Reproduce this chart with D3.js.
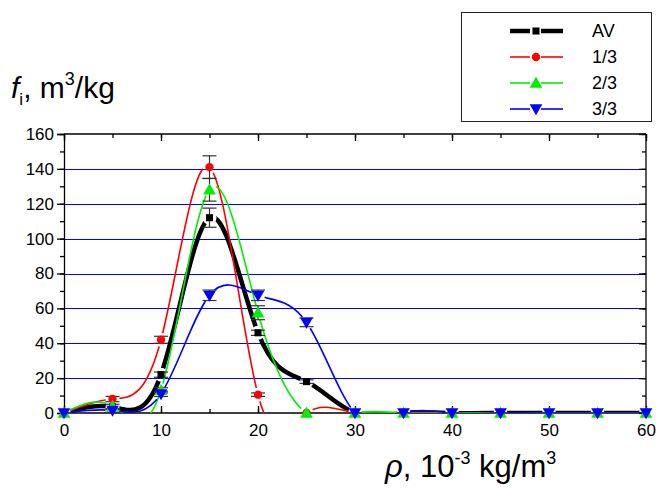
<!DOCTYPE html>
<html>
<head>
<meta charset="utf-8">
<script src="https://cdn.jsdelivr.net/npm/d3@7"></script>
<style>
  body { margin: 0; background: #fff; }
  svg { font-family: "Liberation Sans", Arial, sans-serif; }
</style>
</head>
<body>
<svg id="chart" width="660" height="488"></svg>
<script>
// data
const rho = [0, 5, 10, 15, 20, 25, 30, 35, 40, 45, 50, 55, 60];
const av = [0, 3.5, 22, 112, 46, 18, 0, 0, 0, 0, 0, 0, 0];
const avErr = [0, 1.5, 1.5, 5.5, 1.5, 1, 0, 0, 0, 0, 0, 0, 0];
const third1 = [0, 8, 42, 141, 10.5, 0, 0, 0, 0, 0, 0, 0, 0];
const third1Err = [0, 1.5, 2, 6.5, 1, 0, 0, 0, 0, 0, 0, 0, 0];
const third2 = [0, 4, 13, 128, 57.5, 0, 0, 0, 0, 0, 0, 0, 0];
const third2Err = [0, 0, 1.5, 6.5, 4, 0, 0, 0, 0, 0, 0, 0, 0];
const third3 = [0, 1.5, 11, 67.5, 67.5, 52, 0, 0, 0, 0, 0, 0, 0];
const third3Err = [0, 1, 1.5, 3, 3, 2.5, 0, 0, 0, 0, 0, 0, 0];
const seriesNames = ['AV', '1/3', '2/3', '3/3'];
const yTicks = [0, 20, 40, 60, 80, 100, 120, 140, 160];
const xTicks = [0, 10, 20, 30, 40, 50, 60];

const series = [
  { name: seriesNames[0], values: av, err: avErr, color: '#000', width: 4.5, symbol: d3.symbolSquare, size: 50, rot: 0 },
  { name: seriesNames[1], values: third1, err: third1Err, color: '#ff0000', width: 1.6, symbol: d3.symbolCircle, size: 55, rot: 0 },
  { name: seriesNames[2], values: third2, err: third2Err, color: '#00ee00', width: 1.6, symbol: d3.symbolTriangle, size: 70, rot: 0 },
  { name: seriesNames[3], values: third3, err: third3Err, color: '#0000ff', width: 1.6, symbol: d3.symbolTriangle, size: 70, rot: 180 }
];

const svg = d3.select('#chart');
const pLeft = 64, pRight = 646, pTop = 134, pBottom = 413;

const x = d3.scaleLinear().domain([0, 60]).range([pLeft, pRight]);
const y = d3.scaleLinear().domain([0, 160]).range([pBottom, pTop]);

const defs = svg.append('defs');
defs.append('clipPath').attr('id', 'plotclip')
  .append('rect').attr('x', pLeft).attr('y', pTop).attr('width', pRight - pLeft).attr('height', pBottom - pTop);

// grid lines (snapped to pixels so they stay crisp)
svg.append('g')
  .attr('shape-rendering', 'crispEdges')
  .selectAll('line')
  .data(yTicks.filter(d => d > 0 && d < 160))
  .enter().append('line')
  .attr('x1', pLeft).attr('x2', pRight)
  .attr('y1', d => Math.round(y(d)) + 0.5).attr('y2', d => Math.round(y(d)) + 0.5)
  .attr('stroke', '#0000ff').attr('stroke-width', 1);

// axes
const minorY = d3.range(0, 161, 10);
const minorX = d3.range(0, 61, 5);

svg.append('g')
  .attr('transform', `translate(${pLeft},0)`)
  .call(d3.axisLeft(y).tickValues(minorY).tickSize(4).tickFormat(''))
  .call(g => g.select('.domain').remove());
svg.append('g')
  .attr('transform', `translate(${pLeft},0)`)
  .call(d3.axisLeft(y).tickValues(yTicks).tickSize(7).tickPadding(3))
  .call(g => g.selectAll('text').style('font-size', '17px').attr('fill', '#000'));

svg.append('g')
  .attr('transform', `translate(${pRight},0)`)
  .call(d3.axisLeft(y).tickValues(minorY).tickSize(4).tickFormat(''))
  .call(g => g.select('.domain').remove());
svg.append('g')
  .attr('transform', `translate(${pRight},0)`)
  .call(d3.axisLeft(y).tickValues(yTicks).tickSize(7).tickFormat(''))
  .call(g => g.select('.domain').attr('d', `M0,${pTop}V${pBottom}`));

svg.append('g')
  .attr('transform', `translate(0,${pTop})`)
  .call(d3.axisBottom(x).tickValues(minorX).tickSize(4).tickFormat(''))
  .call(g => g.select('.domain').remove());
svg.append('g')
  .attr('transform', `translate(0,${pTop})`)
  .call(d3.axisBottom(x).tickValues(xTicks).tickSize(7).tickFormat(''))
  .call(g => g.select('.domain').attr('d', `M${pLeft},0H${pRight}`));

svg.append('g')
  .attr('transform', `translate(0,${pBottom})`)
  .call(d3.axisTop(x).tickValues(minorX).tickSize(4).tickFormat(''))
  .call(g => g.select('.domain').remove());
svg.append('g')
  .attr('transform', `translate(0,${pBottom})`)
  .call(d3.axisTop(x).tickValues(xTicks).tickSize(7).tickFormat(''))
  .call(g => g.select('.domain').attr('d', `M${pLeft},0H${pRight}`));

svg.append('g')
  .attr('transform', `translate(0,${pBottom})`)
  .call(d3.axisBottom(x).tickValues(xTicks).tickSize(0).tickPadding(11))
  .call(g => g.select('.domain').remove())
  .call(g => g.selectAll('text').style('font-size', '17px').attr('fill', '#000'));

svg.selectAll('.tick line, .domain').attr('stroke', '#000').attr('stroke-width', 1.3);

// lines, with gaps round the symbols
const line = d3.line()
  .x((d, i) => x(rho[i]))
  .y(d => y(d))
  .curve(d3.curveNatural);

const lineLayer = svg.append('g').attr('clip-path', 'url(#plotclip)');
series.forEach((s, k) => {
  const m = defs.append('mask').attr('id', 'gap' + k)
    .attr('maskUnits', 'userSpaceOnUse')
    .attr('x', 0).attr('y', 0).attr('width', 660).attr('height', 488);
  m.append('rect').attr('width', 660).attr('height', 488).attr('fill', '#fff');
  m.selectAll('circle').data(s.values).enter().append('circle')
    .attr('cx', (d, i) => x(rho[i])).attr('cy', d => y(d))
    .attr('r', 7).attr('fill', '#000');

  lineLayer.append('path')
    .datum(s.values)
    .attr('d', line)
    .attr('fill', 'none')
    .attr('stroke', s.color)
    .attr('stroke-width', s.width)
    .attr('mask', `url(#gap${k})`);
});

// error bars
series.forEach(s => {
  const g = svg.append('g').attr('stroke', '#333').attr('stroke-width', 1.2);
  s.values.forEach((v, i) => {
    const e = s.err[i];
    if (!e) return;
    const cx = x(rho[i]);
    g.append('line').attr('x1', cx).attr('x2', cx).attr('y1', y(v - e)).attr('y2', y(v + e));
    g.append('line').attr('x1', cx - 7).attr('x2', cx + 7).attr('y1', y(v - e)).attr('y2', y(v - e));
    g.append('line').attr('x1', cx - 7).attr('x2', cx + 7).attr('y1', y(v + e)).attr('y2', y(v + e));
  });
});

// symbols
const symShift = s => s.rot ? -1 : (s.symbol === d3.symbolTriangle ? 1 : 0);
series.forEach(s => {
  svg.append('g')
    .selectAll('path')
    .data(s.values)
    .enter().append('path')
    .attr('d', d3.symbol().type(s.symbol).size(s.size))
    .attr('transform', (d, i) => `translate(${x(rho[i])},${y(d) + symShift(s)}) rotate(${s.rot})`)
    .attr('fill', s.color);
});

// legend
const lg = svg.append('g');
lg.append('rect')
  .attr('x', 461.5).attr('y', 12.5).attr('width', 190).attr('height', 109)
  .attr('fill', '#fff').attr('stroke', '#222').attr('stroke-width', 1);
series.forEach((s, k) => {
  const ly = 31 + k * 26;
  lg.append('line').attr('x1', 510).attr('x2', 530).attr('y1', ly).attr('y2', ly)
    .attr('stroke', s.color).attr('stroke-width', s.width);
  lg.append('line').attr('x1', 541).attr('x2', 563).attr('y1', ly).attr('y2', ly)
    .attr('stroke', s.color).attr('stroke-width', s.width);
  lg.append('path')
    .attr('d', d3.symbol().type(s.symbol).size(s.size))
    .attr('transform', `translate(536,${ly + symShift(s)}) rotate(${s.rot})`)
    .attr('fill', s.color);
  lg.append('text').attr('x', 592).attr('y', ly + 6)
    .style('font-size', '18px').text(s.name);
});

// axis titles
const yt = svg.append('text').attr('x', 11).attr('y', 98).style('font-size', '30px');
yt.append('tspan').style('font-style', 'italic').text('f');
yt.append('tspan').attr('dy', 7).style('font-size', '17px').text('i');
yt.append('tspan').attr('dy', -7).text(', m');
yt.append('tspan').attr('dy', -13).style('font-size', '18px').text('3');
yt.append('tspan').attr('dy', 13).text('/kg');

const xt = svg.append('text').attr('x', 385).attr('y', 477).style('font-size', '31px');
xt.append('tspan').style('font-style', 'italic').text('ρ');
xt.append('tspan').text(', 10');
xt.append('tspan').attr('dy', -13).style('font-size', '18px').text('-3');
xt.append('tspan').attr('dy', 13).text(' kg/m');
xt.append('tspan').attr('dy', -13).style('font-size', '18px').text('3');
</script>
</body>
</html>
